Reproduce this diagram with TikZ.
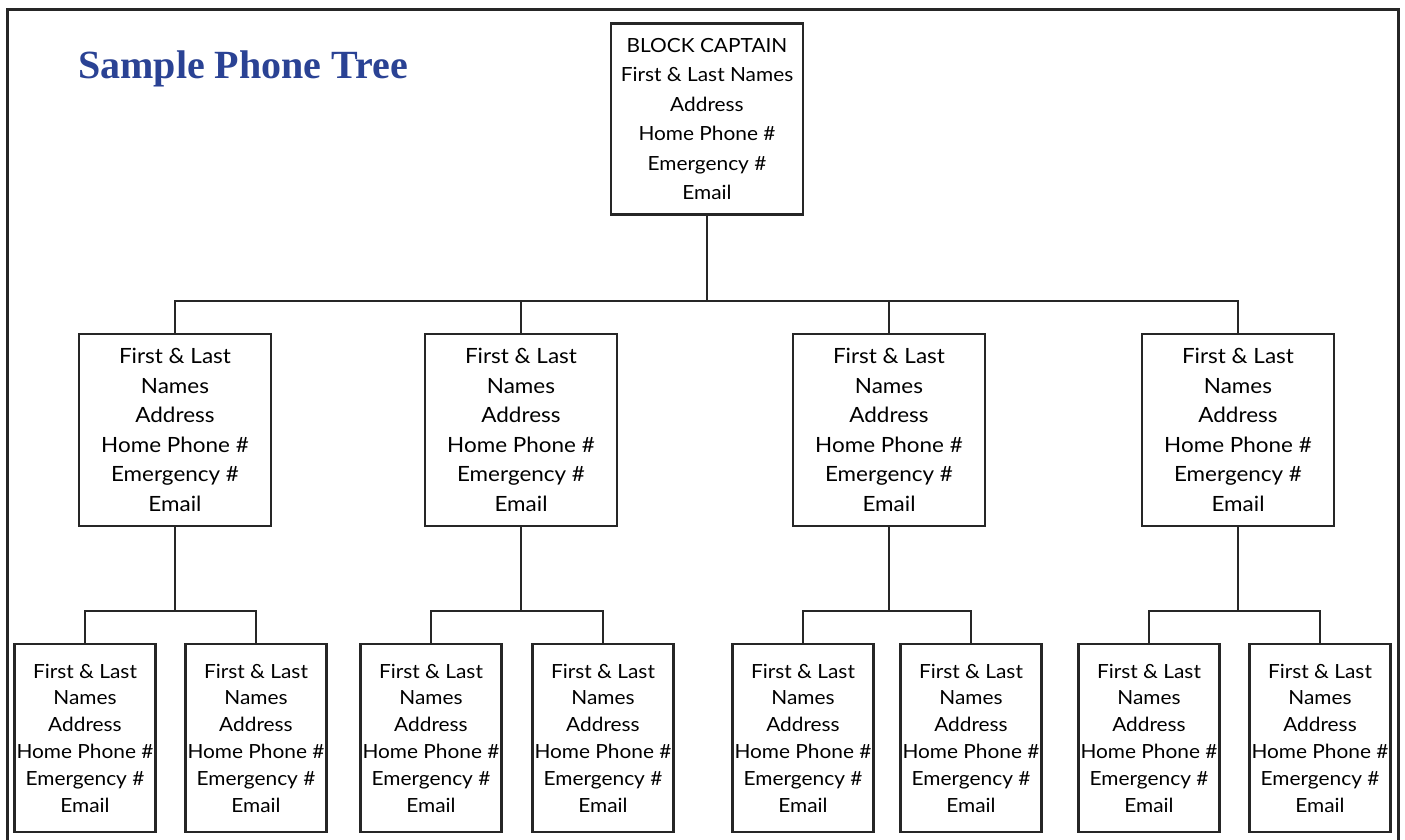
\documentclass[tikz,border=0pt]{standalone}
\usepackage{fontspec}
\setmainfont{Lato}[FakeStretch=1.07]
\newfontfamily\titlefont{Liberation Serif}
\usepackage{xcolor}
\definecolor{titleblue}{RGB}{42,66,148}

\begin{document}
\begin{tikzpicture}[x=1pt,y=-1pt]
\tikzstyle{every node}+=[inner sep=0pt]
\tikzstyle{card}=[draw=black!85, line width=2.4pt, align=center, minimum width=192pt, minimum height=192pt, font=\fontsize{21}{29.5}\selectfont]
\tikzstyle{leaf}=[card, minimum width=141pt, minimum height=188pt, font=\fontsize{19.5}{26.8}\selectfont]
\tikzstyle{wire}=[draw=black!85, line width=2pt]
\useasboundingbox (0,0) rectangle (1405,839);
\draw [black!85, line width=3pt] (7,840) -- (7,9) -- (1398,9) -- (1398,840);
\node [anchor=base west, text=titleblue, font=\titlefont\bfseries\fontsize{40}{42}\selectfont] (title) at (78,78) {Sample Phone Tree};
% block captain
\node [card, minimum height=191pt, font=\fontsize{19.5}{29.4}\selectfont] (cap) at (707,119) {BLOCK CAPTAIN\\First \& Last Names\\Address\\Home Phone \#\\Emergency \#\\Email};
% second row
\node [card] (m1) at (175,430) {First \& Last\\Names\\Address\\Home Phone \#\\Emergency \#\\Email};
\node [card] (m2) at (521,430) {First \& Last\\Names\\Address\\Home Phone \#\\Emergency \#\\Email};
\node [card] (m3) at (889,430) {First \& Last\\Names\\Address\\Home Phone \#\\Emergency \#\\Email};
\node [card] (m4) at (1238,430) {First \& Last\\Names\\Address\\Home Phone \#\\Emergency \#\\Email};
% third row
\node [leaf] (l1) at (85,738) {First \& Last\\Names\\Address\\Home Phone \#\\Emergency \#\\Email};
\node [leaf] (l2) at (256,738) {First \& Last\\Names\\Address\\Home Phone \#\\Emergency \#\\Email};
\node [leaf] (l3) at (431,738) {First \& Last\\Names\\Address\\Home Phone \#\\Emergency \#\\Email};
\node [leaf] (l4) at (603,738) {First \& Last\\Names\\Address\\Home Phone \#\\Emergency \#\\Email};
\node [leaf] (l5) at (803,738) {First \& Last\\Names\\Address\\Home Phone \#\\Emergency \#\\Email};
\node [leaf] (l6) at (971,738) {First \& Last\\Names\\Address\\Home Phone \#\\Emergency \#\\Email};
\node [leaf] (l7) at (1149,738) {First \& Last\\Names\\Address\\Home Phone \#\\Emergency \#\\Email};
\node [leaf] (l8) at (1320,738) {First \& Last\\Names\\Address\\Home Phone \#\\Emergency \#\\Email};
% connectors
\draw [wire] (cap.south) -- ++(0,85) -| (m1.north);
\draw [wire] (cap.south) -- ++(0,85) -| (m2.north);
\draw [wire] (cap.south) -- ++(0,85) -| (m3.north);
\draw [wire] (cap.south) -- ++(0,85) -| (m4.north);
\draw [wire] (m1.south) -- ++(0,84) -| (l1.north);
\draw [wire] (m1.south) -- ++(0,84) -| (l2.north);
\draw [wire] (m2.south) -- ++(0,84) -| (l3.north);
\draw [wire] (m2.south) -- ++(0,84) -| (l4.north);
\draw [wire] (m3.south) -- ++(0,84) -| (l5.north);
\draw [wire] (m3.south) -- ++(0,84) -| (l6.north);
\draw [wire] (m4.south) -- ++(0,84) -| (l7.north);
\draw [wire] (m4.south) -- ++(0,84) -| (l8.north);
\end{tikzpicture}
\end{document}
